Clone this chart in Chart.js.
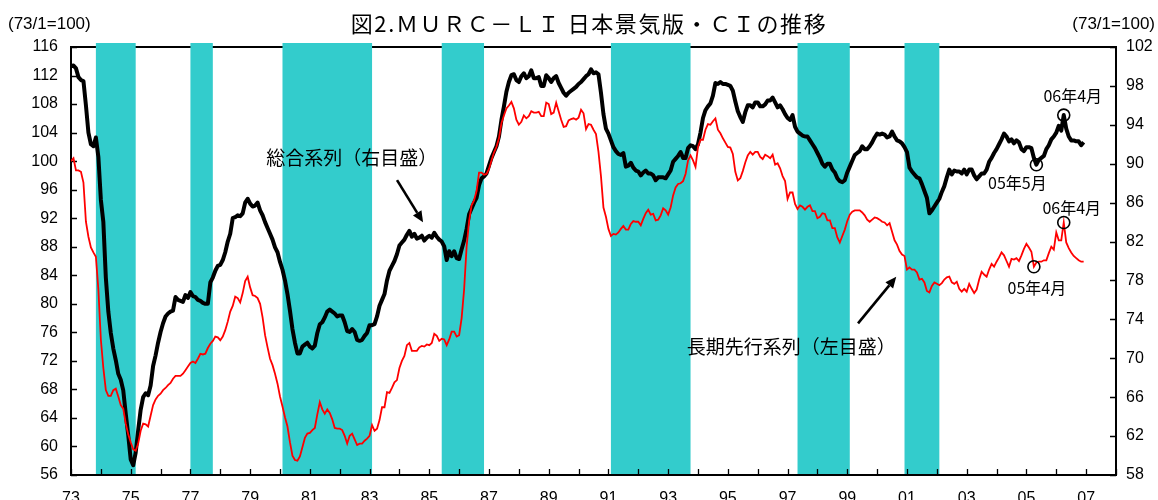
<!DOCTYPE html>
<html><head><meta charset="utf-8">
<script src="https://cdn.jsdelivr.net/npm/chart.js@4.4.1/dist/chart.umd.min.js"></script>
<style>html,body{margin:0;padding:0;background:#fff;overflow:hidden}</style>
</head><body>
<canvas id="c" width="1158" height="500"></canvas>
<script>
// ---------------- DATA ----------------
const TITLE = '図2.ＭＵＲＣ－ＬＩ 日本景気版・ＣＩの推移';
const UNIT_LABEL = '(73/1=100)';
const START_YEAR = 1973;            // monthly series start: 1973-01
const SERIES_BLACK_NAME = '総合系列（右目盛）';
const SERIES_RED_NAME = '長期先行系列（左目盛）';

// 総合系列 (right axis), monthly 1973-01 .. 2006-12
const blackValues = [
 100.0,100.1,99.8,98.9,98.6,98.5,96.0,93.2,92.0,91.8,92.7,90.7,
 86.3,84.0,78.3,74.8,72.6,71.0,69.8,68.4,67.8,66.7,64.3,62.1,
 59.6,59.0,60.3,62.6,64.7,66.0,66.4,66.2,67.2,69.2,70.3,71.6,
 72.7,73.6,74.3,74.6,74.8,74.9,76.3,76.0,75.9,75.8,76.5,76.2,
 76.8,76.4,76.3,76.0,75.9,75.7,75.6,75.6,77.8,78.3,79.0,79.5,
 79.6,80.1,80.9,82.0,82.8,84.4,84.5,84.7,84.6,84.9,86.0,86.4,
 85.9,85.6,85.7,86.0,85.2,84.7,84.0,83.4,82.8,82.2,81.4,80.9,
 79.9,79.1,78.0,76.6,74.9,73.0,71.6,70.5,70.5,71.2,71.4,71.6,
 71.2,71.0,71.3,72.6,73.5,73.7,74.2,74.8,75.0,74.8,74.6,74.3,
 74.4,74.4,73.7,72.8,72.7,73.0,72.7,71.9,71.8,71.9,72.3,72.6,
 73.4,73.4,73.5,74.3,75.4,76.0,76.6,78.0,79.0,79.5,80.0,80.7,
 81.6,81.9,82.2,82.7,83.1,82.5,82.8,82.3,82.4,82.6,82.1,82.4,
 82.6,82.4,82.9,82.5,82.2,82.0,81.5,80.1,81.0,80.5,81.0,80.3,
 80.2,81.2,82.1,83.3,84.8,85.4,86.0,86.5,87.8,88.5,88.7,89.0,
 89.8,90.6,91.2,91.8,92.8,94.5,95.9,97.4,98.4,99.1,99.2,98.6,
 98.4,99.0,99.3,98.8,99.0,99.6,98.8,98.8,98.9,98.0,98.0,99.1,
 98.8,98.4,98.8,99.0,98.3,97.8,97.3,97.0,97.3,97.5,97.7,97.9,
 98.2,98.4,98.7,99.0,99.2,99.7,99.3,99.4,99.2,97.3,95.1,93.6,
 93.1,92.4,91.7,91.3,91.0,90.9,91.1,89.7,89.8,90.1,89.6,89.3,
 89.2,88.8,89.1,89.3,89.0,89.0,88.8,88.3,88.6,88.6,88.6,88.5,
 88.9,89.3,90.2,90.5,90.8,91.2,90.6,90.6,91.6,91.9,91.8,91.5,
 92.0,93.2,94.7,95.5,95.9,96.2,97.0,98.3,98.2,98.4,98.2,98.2,
 98.1,98.0,97.5,96.4,95.4,94.8,94.3,95.3,96.0,96.0,95.8,96.3,
 96.3,95.9,95.9,96.1,96.5,96.5,96.8,96.3,95.8,96.0,95.6,95.1,
 94.7,94.5,95.0,93.8,93.3,93.1,92.9,92.8,92.8,92.4,92.0,91.6,
 91.1,90.6,90.0,89.7,90.0,90.0,89.4,89.1,88.5,88.2,88.1,88.3,
 89.1,89.7,90.3,90.9,91.1,91.3,91.8,91.5,91.5,91.8,92.2,92.7,
 93.1,93.0,93.1,93.0,92.7,92.8,93.3,92.8,92.4,92.3,92.1,91.7,
 91.2,89.6,89.2,88.9,88.6,88.5,87.9,87.2,86.5,84.9,85.2,85.6,
 86.0,86.4,87.1,87.7,88.6,89.4,88.9,89.3,89.2,89.2,89.0,89.4,
 88.9,89.4,89.4,88.8,88.4,88.7,89.0,89.0,89.4,90.2,90.6,91.1,
 91.5,92.0,92.5,93.1,92.8,92.3,92.5,92.1,92.4,92.2,91.5,91.3,
 91.7,91.7,91.6,90.6,89.9,90.4,90.6,90.8,91.5,91.9,92.5,92.8,
 93.2,93.9,93.4,95.0,93.6,92.8,92.4,92.4,92.3,92.3,91.9,92.2
];

// 長期先行系列 (left axis), monthly 1973-01 .. 2006-12
const redValues = [
 100.0,100.4,98.7,98.7,98.5,97.0,91.5,89.4,87.9,87.2,86.6,82.0,
 75.0,71.0,67.9,67.1,67.1,67.9,68.1,67.0,65.8,65.3,63.2,61.7,
 60.6,59.6,59.4,60.4,62.2,63.2,63.1,62.8,64.3,65.8,66.6,67.1,
 67.4,67.9,68.2,68.6,68.9,69.5,69.9,69.9,69.9,70.2,70.7,71.2,
 71.7,71.9,71.7,72.3,73.0,72.9,73.0,73.8,74.4,74.8,75.4,75.3,
 74.9,75.4,76.3,77.5,78.9,79.7,81.0,80.8,80.2,81.5,83.2,83.8,
 82.3,81.2,81.1,80.8,80.0,78.1,75.6,73.9,72.3,71.4,70.2,68.8,
 67.0,65.6,64.1,62.8,60.6,58.7,58.1,58.0,58.6,59.9,61.2,61.8,
 61.9,62.3,62.6,64.5,66.2,65.2,64.6,65.2,64.7,63.8,62.6,62.5,
 62.5,62.3,61.5,60.4,61.5,61.8,61.0,60.2,60.4,60.4,60.8,61.1,
 61.5,63.0,62.2,62.5,63.7,65.5,65.5,67.6,67.5,68.2,69.0,69.3,
 71.0,72.0,72.7,74.2,74.5,73.4,73.4,73.4,73.9,74.1,74.0,74.3,
 74.2,74.5,75.8,75.5,74.8,75.1,75.0,74.2,75.0,76.1,76.1,75.4,
 75.6,78.0,82.0,88.0,91.6,93.8,94.5,95.8,98.4,98.4,98.1,98.2,
 98.9,100.1,101.2,102.0,103.2,105.3,106.4,107.4,107.8,108.3,107.4,105.8,
 105.1,105.5,106.4,106.0,106.3,107.0,106.8,106.8,106.9,106.3,106.3,108.2,
 108.0,106.6,106.8,108.2,107.0,105.8,104.8,104.9,105.7,105.9,106.0,105.8,
 106.1,107.2,106.7,104.5,105.2,105.1,104.4,103.8,101.3,97.9,93.5,92.2,
 90.5,89.5,89.8,89.7,90.0,90.5,90.9,90.4,90.4,91.2,91.6,91.5,
 91.5,91.0,91.9,92.7,93.2,92.5,92.6,91.7,91.8,92.4,93.4,93.1,
 92.5,93.5,95.2,96.3,96.8,96.9,97.2,98.2,100.1,100.8,100.1,99.2,
 102.0,103.0,103.0,104.4,105.2,105.1,105.6,106.0,104.4,103.9,103.2,102.6,
 102.0,101.9,101.0,98.5,97.3,97.6,98.6,99.8,100.8,101.3,100.9,101.3,
 101.3,100.6,100.3,100.9,100.7,100.4,100.9,99.5,99.7,99.0,97.9,97.2,
 94.7,95.6,95.6,94.0,93.3,93.8,93.6,93.2,93.6,93.8,93.0,93.0,
 92.0,92.2,92.7,92.6,91.7,91.7,90.6,90.6,89.3,88.6,89.5,90.4,
 91.6,92.5,92.9,93.1,93.1,93.1,92.8,92.4,91.8,91.5,91.8,92.1,
 92.0,91.8,91.5,91.4,91.0,91.3,90.1,88.9,88.3,87.4,86.9,86.7,
 84.8,85.1,84.8,84.8,84.4,83.4,83.5,83.0,81.8,81.6,82.5,83.0,
 82.8,82.6,82.9,83.4,83.7,83.8,83.0,82.8,83.1,82.1,81.7,82.1,
 81.7,82.8,82.1,81.5,82.0,83.4,84.5,84.1,83.8,84.8,85.6,85.2,
 85.9,86.5,87.2,86.8,86.0,85.2,86.3,86.2,86.4,86.0,86.8,87.7,
 88.4,87.9,87.3,85.2,85.8,85.9,85.9,86.1,86.1,87.1,88.0,87.6,
 90.0,88.9,88.9,91.4,88.6,87.8,87.2,86.7,86.4,86.1,85.9,85.9
];

// Recession periods (shaded)
const recessionStarts = ['1973-11','1977-01','1980-02','1985-06','1991-02','1997-05','2000-12'];
const recessionEnds   = ['1975-03','1977-10','1983-02','1986-11','1993-10','1999-02','2002-02'];

// Axis tick settings
const leftTicks  = {min: 56, max: 116, step: 4};
const rightTicks = {min: 58, max: 102, step: 4};
const xRange     = {min: 1973, max: 2008, step: 1};

// Marked points (circles)
const blackMarks = ['2005-05','2006-04'];
const blackMarkLabels = ['05年5月','06年4月'];
const redMarks = ['2005-04','2006-04'];
const redMarkLabels = ['05年4月','06年4月'];

// ---------------- HELPERS ----------------
function ym(s){ const [y,m] = s.split('-').map(Number); return y + (m-1)/12; }
function idxOf(s){ const [y,m] = s.split('-').map(Number); return (y-START_YEAR)*12 + (m-1); }
const toXY = arr => arr.map((v,i)=>({x: START_YEAR + i/12, y: v}));

const FONT_NUM = '"Liberation Sans", Arial, sans-serif';
const FONT_JP = '"Noto Sans CJK JP", "Noto Sans", sans-serif';

function arrow(ctx, x0, y0, x1, y1){
  const ang = Math.atan2(y1-y0, x1-x0), L = 11, W = 5;
  const bx = x1 - L*Math.cos(ang), by = y1 - L*Math.sin(ang);
  ctx.beginPath(); ctx.moveTo(x0,y0); ctx.lineTo(bx,by); ctx.stroke();
  ctx.beginPath();
  ctx.moveTo(x1,y1);
  ctx.lineTo(bx + W*Math.sin(ang), by - W*Math.cos(ang));
  ctx.lineTo(bx - W*Math.sin(ang), by + W*Math.cos(ang));
  ctx.closePath(); ctx.fill();
}

const decor = {
  id: 'decor',
  beforeDatasetsDraw(chart){
    const {ctx, chartArea: a, scales} = chart;
    const xs = scales.x, yl = scales.yL, yr = scales.yR;
    ctx.save();
    ctx.strokeStyle = '#000'; ctx.lineWidth = 2;
    ctx.beginPath(); ctx.moveTo(a.left-1, a.top); ctx.lineTo(a.right+1, a.top); ctx.stroke();
    ctx.fillStyle = '#33CCCC';
    recessionStarts.forEach((s,i)=>{
      const x0 = xs.getPixelForValue(ym(s)), x1 = xs.getPixelForValue(ym(recessionEnds[i]));
      ctx.fillRect(x0, a.top-4, x1-x0, a.bottom-a.top+4);
    });
    ctx.beginPath();
    ctx.moveTo(a.left, a.top-1); ctx.lineTo(a.left, a.bottom+1);
    ctx.moveTo(a.right, a.top-1); ctx.lineTo(a.right, a.bottom+1);
    ctx.moveTo(a.left-1, a.bottom); ctx.lineTo(a.right+1, a.bottom);
    ctx.stroke();
    ctx.lineWidth = 1.3;
    ctx.beginPath();
    yl.ticks.forEach((t,i)=>{ const p = Math.round(yl.getPixelForTick(i))+0.5; ctx.moveTo(a.left, p); ctx.lineTo(a.left+6, p); });
    yr.ticks.forEach((t,i)=>{ const p = Math.round(yr.getPixelForTick(i))+0.5; ctx.moveTo(a.right, p); ctx.lineTo(a.right-6, p); });
    xs.ticks.forEach((t,i)=>{ const p = Math.round(xs.getPixelForTick(i))+0.5; ctx.moveTo(p, a.bottom); ctx.lineTo(p, a.bottom-6); });
    ctx.stroke();
    ctx.restore();
  },
  afterDraw(chart){
    const {ctx, chartArea: a, scales} = chart;
    const xs = scales.x, yl = scales.yL, yr = scales.yR;
    ctx.save();
    ctx.fillStyle = '#000'; ctx.strokeStyle = '#000';
    // title
    ctx.font = '22px ' + FONT_JP;
    if ('letterSpacing' in ctx) ctx.letterSpacing = '1.6px';
    ctx.textAlign = 'center'; ctx.textBaseline = 'middle';
    ctx.fillText(TITLE, 589, 24);
    if ('letterSpacing' in ctx) ctx.letterSpacing = '0px';
    // unit labels
    ctx.font = '17px ' + FONT_NUM;
    ctx.textAlign = 'left'; ctx.fillText(UNIT_LABEL, 8, 24);
    ctx.textAlign = 'right'; ctx.fillText(UNIT_LABEL, 1155, 24);
    // series name labels + arrows (data coordinates)
    ctx.font = '19px ' + FONT_JP; ctx.textAlign = 'center';
    ctx.fillText(SERIES_BLACK_NAME, xs.getPixelForValue(1982.40), yr.getPixelForValue(90.57));
    ctx.fillText(SERIES_RED_NAME, xs.getPixelForValue(1997.12), yl.getPixelForValue(73.93));
    ctx.lineWidth = 2.6;
    arrow(ctx, xs.getPixelForValue(1983.92), yr.getPixelForValue(88.31), xs.getPixelForValue(1984.79), yr.getPixelForValue(83.99));
    arrow(ctx, xs.getPixelForValue(1999.36), yl.getPixelForValue(77.25), xs.getPixelForValue(2000.64), yl.getPixelForValue(83.78));
    // circles and labels
    ctx.lineWidth = 1.6; ctx.font = '16px ' + FONT_JP;
    const offs = {b0:[-19,18.5], b1:[9,-19], r0:[3,21.5], r1:[8,-15]};
    blackMarks.forEach((s,i)=>{
      const px = xs.getPixelForValue(ym(s)), py = yr.getPixelForValue(blackValues[idxOf(s)]);
      ctx.beginPath(); ctx.arc(px, py, 6, 0, Math.PI*2); ctx.stroke();
      const o = offs['b'+i]; ctx.fillText(blackMarkLabels[i], px+o[0], py+o[1]);
    });
    redMarks.forEach((s,i)=>{
      const px = xs.getPixelForValue(ym(s)), py = yl.getPixelForValue(redValues[idxOf(s)]);
      ctx.beginPath(); ctx.arc(px, py, 6, 0, Math.PI*2); ctx.stroke();
      const o = offs['r'+i]; ctx.fillText(redMarkLabels[i], px+o[0], py+o[1]);
    });
    ctx.restore();
  }
};

new Chart(document.getElementById('c'), {
  type: 'line',
  data: {
    datasets: [
      {label: SERIES_RED_NAME, data: toXY(redValues), yAxisID: 'yL', borderColor: '#FF0000', borderWidth: 1.8, pointRadius: 0, tension: 0, fill: false},
      {label: SERIES_BLACK_NAME, data: toXY(blackValues), yAxisID: 'yR', borderColor: '#000000', borderWidth: 4, pointRadius: 0, tension: 0, fill: false, borderJoinStyle: 'round'}
    ]
  },
  options: {
    responsive: false, animation: false, devicePixelRatio: 1,
    layout: {padding: {top: 47, left: 0, right: 0, bottom: 0}},
    plugins: {legend: {display: false}, tooltip: {enabled: false}, title: {display: false}},
    scales: {
      x: {
        type: 'linear', min: xRange.min, max: xRange.max,
        grid: {display: false, drawTicks: false}, border: {display: false},
        afterFit(s){ s.height = 25; },
        ticks: {stepSize: xRange.step, autoSkip: false, maxRotation: 0, padding: 14, color: '#000',
          font: {family: FONT_NUM, size: 16},
          callback: v => ((v - xRange.min) % 2 === 0) ? String(v % 100).padStart(2,'0') : ''}
      },
      yL: {
        position: 'left', min: leftTicks.min, max: leftTicks.max,
        grid: {display: false, drawTicks: false}, border: {display: false},
        afterFit(s){ s.width = 71; },
        ticks: {stepSize: leftTicks.step, padding: 13, color: '#000', font: {family: FONT_NUM, size: 16}}
      },
      yR: {
        position: 'right', min: rightTicks.min, max: rightTicks.max,
        grid: {display: false, drawTicks: false}, border: {display: false},
        afterFit(s){ s.width = 42; },
        ticks: {stepSize: rightTicks.step, padding: 10, color: '#000', font: {family: FONT_NUM, size: 16}}
      }
    }
  },
  plugins: [decor]
});
</script>
</body></html>
